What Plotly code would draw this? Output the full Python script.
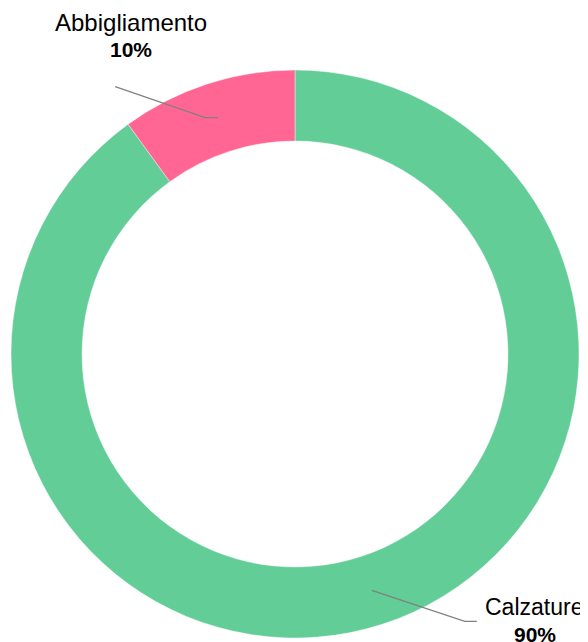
import math
import plotly.graph_objects as go

# ---- data ----
categories = ["Calzature", "Abbigliamento"]
values = [90, 10]
colors = ["#62CD96", "#FF6694"]

# ---- layout geometry (pixels, in the screenshot) ----
W, H = 588, 642
OFF = 8  # page body margin of the html page
CX, CY, R = 295, 354, 284
HOLE = 0.75

def px(x):
    return (x - OFF) / W

def py(y):
    return 1 - (y - OFF) / H

fig = go.Figure(go.Pie(
    labels=categories,
    values=values,
    hole=HOLE,
    sort=False,
    direction="clockwise",
    rotation=0,
    marker=dict(colors=colors, line=dict(color="white", width=0.4)),
    textinfo="none",
    hoverinfo="label+percent",
    showlegend=False,
    domain=dict(x=[px(CX - R), px(CX + R)], y=[py(CY + R), py(CY - R)]),
))

FONT = "Liberation Sans, Arial"
total = sum(values)
cum = 0
shapes = []
annotations = []
r_mid = R * (1 + HOLE) / 2
for cat, v in zip(categories, values):
    mid = (cum + v / 2) / total
    cum += v
    th = mid * 2 * math.pi
    x0 = CX + r_mid * math.sin(th)
    y0 = CY - r_mid * math.cos(th)
    pct = f"{v / total * 100:.0f}%"
    if x0 < CX:
        p1 = (x0 - 13, y0)
        p2 = (p1[0] - 90, p1[1] - 31)
        end = p2
        annotations.append(dict(x=px(end[0] + 16), y=py(end[1] - 64), text=cat,
                                xanchor="center", yanchor="middle", showarrow=False,
                                font=dict(family=FONT, size=24, color="#000")))
        annotations.append(dict(x=px(end[0] + 16), y=py(end[1] - 37), text=f"<b>{pct}</b>",
                                xanchor="center", yanchor="middle", showarrow=False,
                                font=dict(family=FONT, size=21, color="#000")))
    else:
        p1 = (x0 + 93, y0 + 31)
        p2 = (p1[0] + 12, p1[1])
        end = p2
        annotations.append(dict(x=px(end[0] + 6), y=py(end[1] - 14), text=cat,
                                xanchor="left", yanchor="middle", showarrow=False,
                                font=dict(family=FONT, size=23, color="#000")))
        annotations.append(dict(x=px(end[0] + 58), y=py(end[1] + 13), text=f"<b>{pct}</b>",
                                xanchor="center", yanchor="middle", showarrow=False,
                                font=dict(family=FONT, size=21, color="#000")))
    path = f"M {px(x0)} {py(y0)} L {px(p1[0])} {py(p1[1])} L {px(p2[0])} {py(p2[1])}"
    shapes.append(dict(type="path", xref="paper", yref="paper", path=path,
                       line=dict(color="#808080", width=1.2)))

fig.update_layout(
    width=W, height=H,
    margin=dict(l=0, r=0, t=0, b=0),
    paper_bgcolor="white", plot_bgcolor="white",
    shapes=shapes, annotations=annotations,
)

fig.write_html("out.html")
